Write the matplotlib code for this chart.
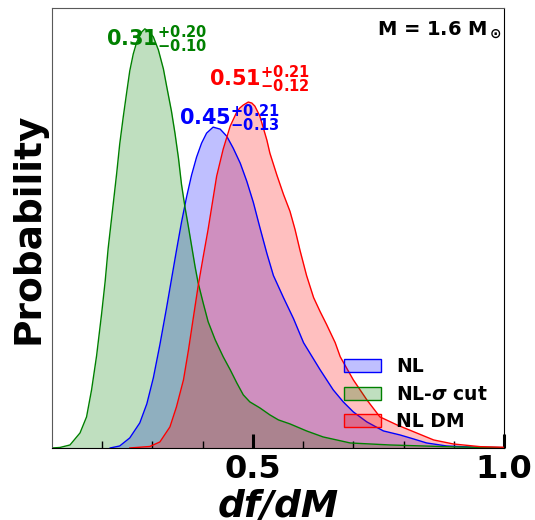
import numpy as np
import matplotlib
matplotlib.use("Agg")
import matplotlib.pyplot as plt
from matplotlib.patches import Patch
from matplotlib.colors import to_rgba

# Datos (df/dM, densidad)
x_nl = [0.216, 0.235, 0.255, 0.275, 0.289, 0.302, 0.315, 0.328, 0.338, 0.348,
        0.358, 0.368, 0.378, 0.388, 0.398, 0.408, 0.421, 0.435, 0.448, 0.461,
        0.475, 0.488, 0.501, 0.514, 0.528, 0.541, 0.561, 0.581, 0.601, 0.634,
        0.660, 0.680, 0.700, 0.727, 0.760, 0.793, 0.820, 0.846, 0.886, 0.939,
        1.0]
y_nl = [0.0, 0.02, 0.10, 0.25, 0.44, 0.70, 1.03, 1.39, 1.68, 1.97,
        2.25, 2.50, 2.72, 2.90, 3.04, 3.14, 3.20, 3.18, 3.11, 2.99,
        2.84, 2.66, 2.45, 2.20, 1.94, 1.72, 1.50, 1.29, 1.05, 0.78,
        0.58, 0.46, 0.36, 0.26, 0.17, 0.13, 0.09, 0.05, 0.02, 0.008,
        0.003]

x_cut = [0.100, 0.116, 0.136, 0.156, 0.169, 0.179, 0.189, 0.199, 0.206, 0.212,
         0.222, 0.229, 0.235, 0.242, 0.249, 0.255, 0.262, 0.269, 0.279, 0.285,
         0.292, 0.302, 0.312, 0.322, 0.328, 0.338, 0.345, 0.352, 0.358, 0.365,
         0.372, 0.378, 0.385, 0.391, 0.401, 0.411, 0.425, 0.441, 0.455, 0.468,
         0.481, 0.494, 0.514, 0.534, 0.551, 0.574, 0.607, 0.640, 0.694, 0.773,
         0.839, 0.907, 1.0]
y_cut = [0.0, 0.005, 0.03, 0.15, 0.31, 0.58, 0.92, 1.34, 1.66, 1.99,
         2.43, 2.74, 3.03, 3.30, 3.55, 3.76, 3.93, 4.05, 4.15, 4.18,
         4.16, 4.10, 3.97, 3.78, 3.62, 3.36, 3.14, 2.89, 2.63, 2.40,
         2.20, 2.02, 1.81, 1.65, 1.45, 1.26, 1.08, 0.91, 0.78, 0.65,
         0.53, 0.46, 0.40, 0.33, 0.28, 0.24, 0.17, 0.11, 0.05, 0.03,
         0.02, 0.01, 0.003]

x_dm = [0.255, 0.295, 0.315, 0.335, 0.348, 0.362, 0.372, 0.381, 0.391, 0.401,
        0.411, 0.428, 0.441, 0.455, 0.468, 0.474, 0.481, 0.491, 0.498, 0.504,
        0.514, 0.528, 0.534, 0.548, 0.561, 0.574, 0.584, 0.594, 0.607, 0.621,
        0.634, 0.647, 0.664, 0.674, 0.700, 0.727, 0.753, 0.787, 0.826, 0.860,
        0.899, 0.953, 1.0]
y_dm = [0.0, 0.015, 0.06, 0.21, 0.41, 0.68, 0.98, 1.28, 1.61, 1.90,
        2.18, 2.71, 2.98, 3.21, 3.35, 3.39, 3.42, 3.45, 3.44, 3.41,
        3.31, 3.07, 2.94, 2.72, 2.53, 2.36, 2.18, 1.97, 1.72, 1.50,
        1.36, 1.23, 1.05, 0.91, 0.68, 0.48, 0.31, 0.23, 0.15, 0.08,
        0.04, 0.013, 0.007]

etiquetas = ["NL", r"NL-$\boldsymbol{\sigma}$ cut", "NL DM"]
colores = ["blue", "green", "red"]
medianas = ["0.45", "0.31", "0.51"]
err_sup = ["0.21", "0.20", "0.21"]
err_inf = ["0.13", "0.10", "0.12"]
pos_texto = [(0.353, 3.22), (0.207, 4.01), (0.413, 3.61)]

plt.rcParams['mathtext.default'] = 'bf'

fig = plt.figure(figsize=(5.35, 5.2), dpi=100)
ax = fig.add_axes([0.097, 0.1385, 0.845, 0.8465])

series = [(x_nl, y_nl), (x_cut, y_cut), (x_dm, y_dm)]
for (xs, ys), c in zip(series, colores):
    ax.fill_between(xs, ys, 0, color=c, alpha=0.25, linewidth=0)
    ax.plot(xs, ys, color=c, linewidth=1, solid_joinstyle='round')

# Valores de la mediana con errores
for i in range(3):
    txt = r"$%s^{+%s}_{-%s}$" % (medianas[i], err_sup[i], err_inf[i])
    ax.text(pos_texto[i][0], pos_texto[i][1], txt, color=colores[i],
            fontsize=15, fontweight='bold')

ax.text(0.995, 0.975, r"M = 1.6 M$_\odot$", transform=ax.transAxes,
        ha='right', va='top', fontsize=14, fontweight='bold')

handles = [Patch(facecolor=to_rgba(c, 0.25), edgecolor=c) for c in colores]
ax.legend(handles, etiquetas, loc='lower right', bbox_to_anchor=(1.001, 0.0),
          frameon=False, prop={'weight': 'bold', 'size': 13.5},
          handletextpad=0.8, labelspacing=0.45)

ax.set_xlim(0.1, 1.0)
ax.set_ylim(0, 4.39)
ax.set_xticks([0.5, 1.0])
ax.set_xticklabels(["0.5", "1.0"])
ax.set_xticks([0.2, 0.3, 0.4, 0.6, 0.7, 0.8, 0.9], minor=True)
ax.set_yticks([])
ax.tick_params(axis='x', which='major', direction='in', length=10, width=2.2,
               labelsize=23, pad=4)
ax.tick_params(axis='x', which='minor', direction='in', length=5, width=1)
for lbl in ax.get_xticklabels():
    lbl.set_fontweight('bold')
for s in ['left', 'top']:
    ax.spines[s].set_color('0.35')
ax.spines['right'].set_color('black')
ax.spines['bottom'].set_color('black')

ax.set_xlabel("df/dM", fontsize=27, fontweight='bold', style='italic', labelpad=3)
ax.set_ylabel("Probability", fontsize=27, fontweight='bold', labelpad=4)

fig.savefig("out.png", dpi=100)
